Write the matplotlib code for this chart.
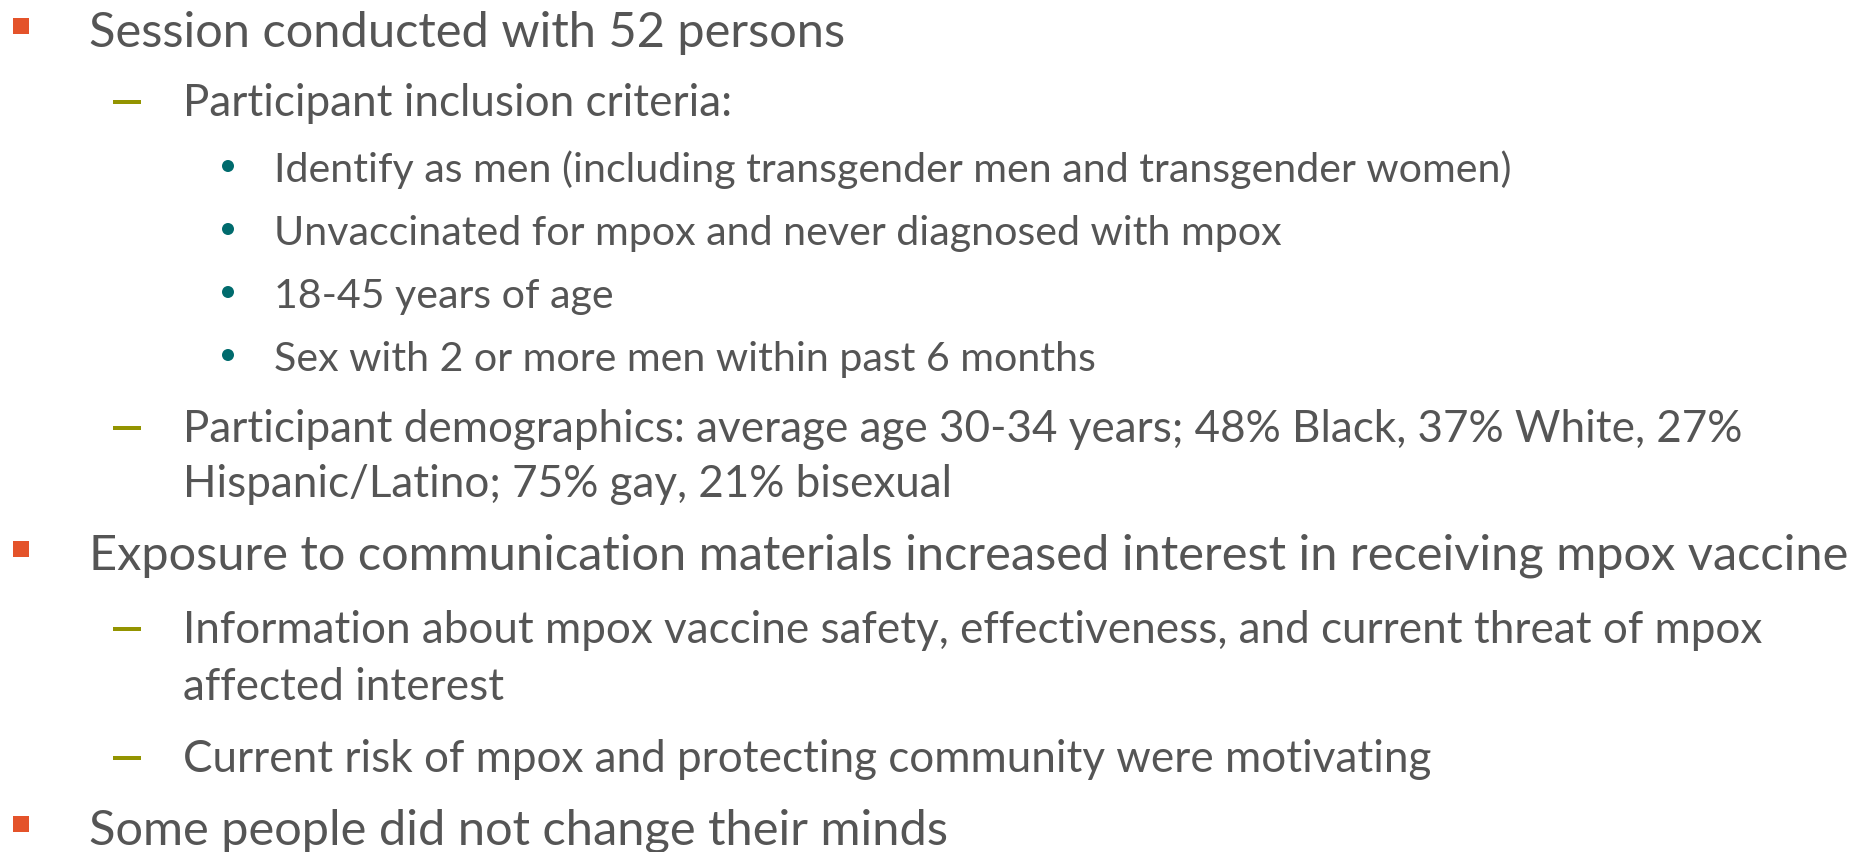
import matplotlib
matplotlib.use("Agg")
import matplotlib.pyplot as plt
from matplotlib.patches import Rectangle, Circle

# ---- content ----
levels = [1, 2, 3, 3, 3, 3, 2, 0, 1, 2, 0, 2, 1]   # 0 = wrapped continuation of level 2
texts = [
    "Session conducted with 52 persons",
    "Participant inclusion criteria:",
    "Identify as men (including transgender men and transgender women)",
    "Unvaccinated for mpox and never diagnosed with mpox",
    "18-45 years of age",
    "Sex with 2 or more men within past 6 months",
    "Participant demographics: average age 30-34 years; 48% Black, 37% White, 27%",
    "Hispanic/Latino; 75% gay, 21% bisexual",
    "Exposure to communication materials increased interest in receiving mpox vaccine",
    "Information about mpox vaccine safety, effectiveness, and current threat of mpox",
    "affected interest",
    "Current risk of mpox and protecting community were motivating",
    "Some people did not change their minds",
]

# ---- layout (pixels) ----
W, H = 1873, 853
baselines = [47, 116, 182, 245, 308, 371, 442, 497, 570, 643, 700, 772, 845]
text_x = {1: 89, 2: 183, 0: 183, 3: 274}
fit_ref = {1: (8, 1758), 2: (6, 1555), 3: (2, 1237)}

TEXT_COLOR = "#555555"
SQ_COLOR = "#e4532a"
DASH_COLOR = "#939400"
DOT_COLOR = "#006b6d"
FONT = "Lato"

fig = plt.figure(figsize=(W / 100, H / 100), dpi=100)
ax = fig.add_axes([0, 0, 1, 1])
ax.set_xlim(0, W)
ax.set_ylim(H, 0)
ax.axis("off")

renderer = fig.canvas.get_renderer()
sizes = {}
for lvl, (idx, target) in fit_ref.items():
    t = ax.text(0, 0, texts[idx], fontsize=30, family=FONT)
    w = t.get_window_extent(renderer).width
    t.remove()
    sizes[lvl] = 30 * target / w
sizes[0] = sizes[2]

for lvl, txt, yb in zip(levels, texts, baselines):
    ax.text(text_x[lvl], yb, txt, fontsize=sizes[lvl], family=FONT,
            color=TEXT_COLOR, va="baseline", ha="left")
    if lvl == 1:
        ax.add_patch(Rectangle((13, yb - 28), 16, 16, color=SQ_COLOR, lw=0))
    elif lvl == 2:
        ax.add_patch(Rectangle((113, yb - 15), 28, 3.5, color=DASH_COLOR, lw=0))
    elif lvl == 3:
        ax.add_patch(Circle((228, yb - 15), 6, color=DOT_COLOR, lw=0))

fig.savefig("out.png", dpi=100, facecolor="white")
